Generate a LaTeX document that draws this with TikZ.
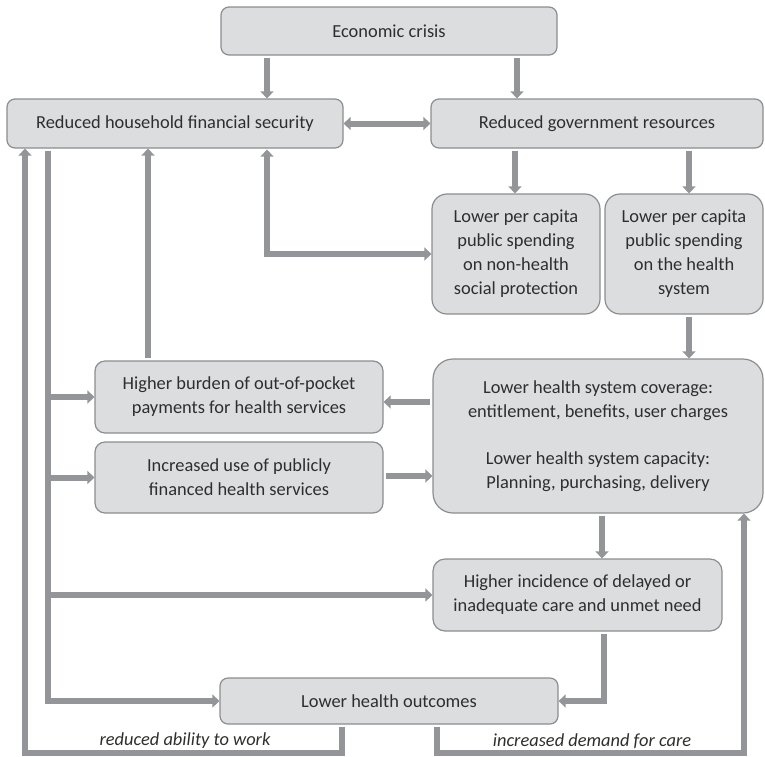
\documentclass[tikz,border=0pt]{standalone}
\usepackage{fontspec}
\setmainfont{Carlito}
\usetikzlibrary{arrows.meta}
\definecolor{linegray}{HTML}{939598}
\definecolor{boxfill}{HTML}{DCDDDF}
\definecolor{boxline}{HTML}{8C8D8F}
\definecolor{txt}{HTML}{2E2E2E}
\tikzset{
  box/.style={draw=boxline, line width=1.2pt, fill=boxfill, rounded corners=8pt,
    inner sep=0pt, align=center, text=txt, font=\fontsize{18.4}{24}\selectfont},
  conn/.style={draw=linegray, line width=6pt, shorten <=2pt,
    -{Triangle[length=7pt,width=13pt]}},
  dconn/.style={draw=linegray, line width=6pt,
    {Triangle[length=7pt,width=13pt]}-{Triangle[length=7pt,width=13pt]}},
  lbl/.style={inner sep=0pt, text=txt, font=\fontsize{18.4}{24}\selectfont\itshape}
}
\begin{document}
\begin{tikzpicture}[x=1pt, y=-1pt]
\useasboundingbox (0,0) rectangle (765,756);
% boxes
\node[box, minimum width=336pt, minimum height=48pt] (econ) at (389,31) {Economic crisis};
\node[box, minimum width=336pt, minimum height=49pt] (hh) at (175,123.5) {Reduced household financial security};
\node[box, minimum width=332pt, minimum height=49pt] (gov) at (597,123.5) {Reduced government resources};
\node[box, rounded corners=15pt, minimum width=168pt, minimum height=120pt] (nonh) at (516,254) {Lower per capita\\public spending\\on non-health\\social protection};
\node[box, rounded corners=15pt, minimum width=158pt, minimum height=120pt] (hsys) at (684,254) {Lower per capita\\public spending\\on the health\\system};
\node[box, rounded corners=10pt, minimum width=288pt, minimum height=72pt] (burden) at (239,397) {Higher burden of out-of-pocket\\payments for health services};
\node[box, rounded corners=10pt, minimum width=288pt, minimum height=71pt] (incr) at (239,477.5) {Increased use of publicly\\financed health services};
\node[box, rounded corners=20pt, minimum width=330pt, minimum height=154pt] (big) at (598,436) {Lower health system coverage:\\entitlement, benefits, user charges\\[23pt]Lower health system capacity:\\Planning, purchasing, delivery};
\node[box, rounded corners=12pt, minimum width=289pt, minimum height=72pt] (incid) at (577.5,595) {Higher incidence of delayed or\\inadequate care and unmet need};
\node[box, minimum width=338pt, minimum height=46pt] (outc) at (389,701) {Lower health outcomes};
% labels
\node[lbl] (lab1) at (185,741) {reduced ability to work};
\node[lbl] (lab2) at (592,741) {increased demand for care};
% helper coordinates
\coordinate (x25) at (25,0);
\coordinate (x48) at (48,0);
\coordinate (x148) at (148,0);
\coordinate (x267) at (267,0);
\coordinate (x342) at (342,0);
\coordinate (x437) at (437,0);
\coordinate (x515) at (515,0);
\coordinate (x517) at (517,0);
\coordinate (x602) at (602,0);
\coordinate (x604) at (604,0);
\coordinate (x689) at (689,0);
\coordinate (x744) at (744,0);
\coordinate (y402) at (0,402);
\coordinate (y476) at (0,476);
\coordinate (ybot) at (0,753);
% connectors
\draw[conn] (econ.south -| x267) -- (hh.north -| x267);
\draw[conn] (econ.south -| x517) -- (gov.north -| x517);
\draw[dconn] (hh.east) -- (gov.west);
\draw[conn] (gov.south -| x515) -- (nonh.north -| x515);
\draw[conn] (gov.south -| x689) -- (hsys.north -| x689);
\draw[dconn] ([yshift=-1pt]hh.south -| x267) |- (nonh.west);
\draw[conn] (hsys.south -| x689) -- (big.north -| x689);
\draw[conn] (big.west |- y402) -- (burden.east |- y402);
\draw[conn] (incr.east |- y476) -- (big.west |- y476);
\draw[conn] (big.south -| x602) -- (incid.north -| x602);
\draw[conn] (incid.south -| x604) |- (outc.east);
\draw[conn] (hh.south -| x48) |- (outc.west);
\draw[conn, shorten <=0pt] (x48 |- burden.west) -- (burden.west);
\draw[conn, shorten <=0pt] (x48 |- incr.west) -- (incr.west);
\draw[conn, shorten <=0pt] (x48 |- incid.west) -- (incid.west);
\draw[conn] (burden.north -| x148) -- (hh.south -| x148);
\draw[conn] (outc.south -| x342) -- (x342 |- ybot) -| (hh.south -| x25);
\draw[conn] (outc.south -| x437) -- (x437 |- ybot) -| (big.south -| x744);
\end{tikzpicture}
\end{document}
